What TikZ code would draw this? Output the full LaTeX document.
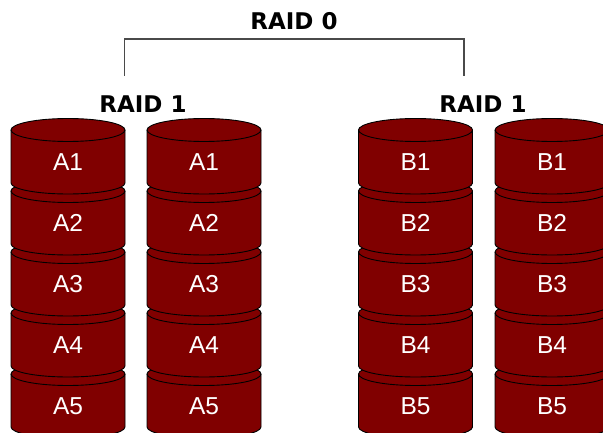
\documentclass[tikz,border=0pt]{standalone}
\usepackage{fontspec}
\setmainfont{Liberation Sans}
\newfontfamily\titlefont{DejaVu Sans}
\definecolor{diskred}{HTML}{800000}
\definecolor{bracketgray}{HTML}{4A4A4A}
\tikzset{
  x=1pt, y=1pt,
  disklabel/.style={text=white, font=\fontsize{24.5}{24.5}\selectfont, anchor=base, inner sep=0pt},
  raidlabel/.style={font=\titlefont\bfseries\fontsize{23}{23}\selectfont, anchor=base, inner sep=0pt},
  bracket/.style={draw=bracketgray, line width=1.1pt},
  % one disk: origin = centre of the top face
  disk/.pic={
    \path[fill=diskred, draw=black, line width=0.9pt]
      (-57,0) -- (-57,-53)
      arc[start angle=180, end angle=360, x radius=57, y radius=11]
      -- (57,0)
      arc[start angle=0, end angle=180, x radius=57, y radius=11.5] -- cycle;
    \draw[black, line width=0.9pt]
      (-57,0) arc[start angle=180, end angle=360, x radius=57, y radius=11.5];
    \node[disklabel] (-lbl) at (0,-40.7) {\tikzpictext};
  }
}
\begin{document}
\begin{tikzpicture}
\useasboundingbox (0,0) rectangle (603,432);

% four mirrored stacks, drawn from the bottom disk upward
\foreach \col/\cx/\pre in {a/68/A, b/204/A, c/415.5/B, d/552/B}{
  \foreach \i in {4,3,2,1,0}{
    \pgfmathtruncatemacro{\n}{\i+1}
    \pgfmathsetmacro{\cy}{302-61*\i}
    \pic[pic text={\pre\n}] (\col\n) at (\cx,\cy) {disk};
  }
}

% labels
\node[raidlabel] (r1a) at (143,319) {RAID 1};
\node[raidlabel] (r1b) at (483,319) {RAID 1};
\node[raidlabel] (r0)  at (294,402) {RAID 0};

% RAID 0 bracket joining the two mirrors
\coordinate (bl) at (124.5,356);
\coordinate (br) at (464,356);
\coordinate (bt) at (464,393);
\draw[bracket] (bl) |- (bt) -- (br);
\end{tikzpicture}
\end{document}
